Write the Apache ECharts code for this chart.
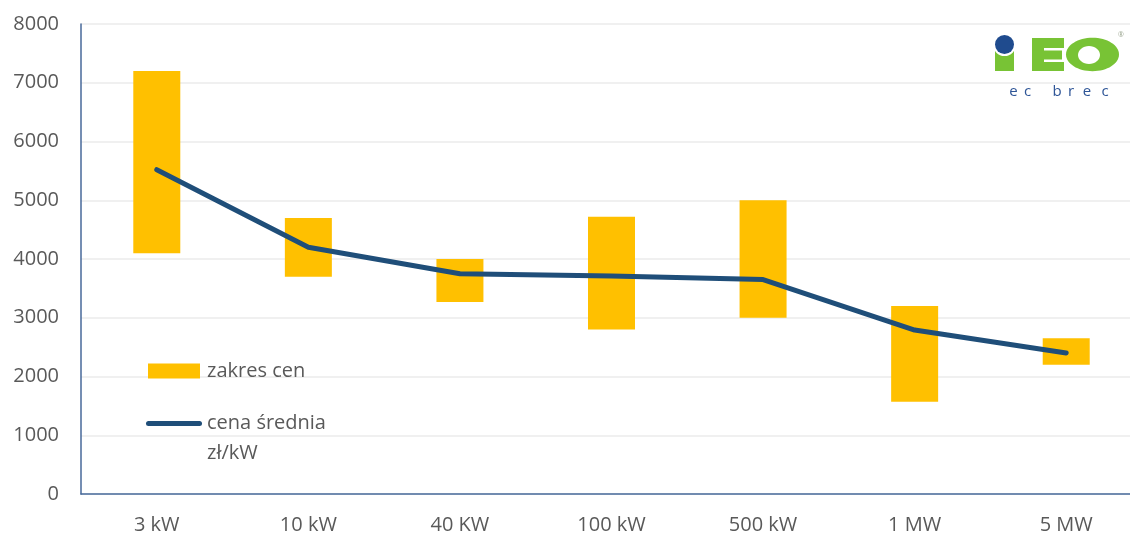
<!DOCTYPE html>
<html>
<head>
<meta charset="utf-8">
<script src="https://cdn.jsdelivr.net/npm/echarts@6/dist/echarts.min.js"></script>
<style>
  html, body { margin: 0; padding: 0; background: #ffffff; overflow: hidden; }
  /* the plot runs slightly past the right edge of the page */
  #chart { width: 1150px; height: 535px; }
</style>
</head>
<body>
<div id="chart"></div>
<script>
// Installation size classes
const categories = ['3 kW', '10 kW', '40 KW', '100 kW', '500 kW', '1 MW', '5 MW'];
// Price range per class (zł/kW): lowest and highest offer
const priceLow  = [4100, 3700, 3270, 2800, 3000, 1570, 2200];
const priceHigh = [7200, 4700, 4000, 4720, 5000, 3200, 2650];
// Average price (zł/kW)
const priceMean = [5520, 4200, 3750, 3710, 3650, 2790, 2400];
// Value axis ticks
const yTicks = [0, 1000, 2000, 3000, 4000, 5000, 6000, 7000, 8000];

const rangeName = 'zakres cen';
const meanName = 'cena średnia zł/kW';
const meanLines = ['cena średnia', 'zł/kW'];

const FONT = '"Open Sans", sans-serif';
const TEXT = '#595959';
const GREEN = '#78C335';
const BLUE = '#1F4B8E';
const LINE = '#1F4E79';

// Floating bars: an invisible base up to the low price, then the visible span
const rangeSpan = priceHigh.map((h, i) => h - priceLow[i]);

// Rounded thick stroke used as the legend key of the average line
const lineKey = 'path://M2.5,0 H53.5 A2.5,2.5 0 0 1 53.5,5 H2.5 A2.5,2.5 0 0 1 2.5,0 Z';

const chart = echarts.init(document.getElementById('chart'), null, { renderer: 'canvas' });

chart.setOption({
  animation: false,
  backgroundColor: '#ffffff',
  textStyle: { fontFamily: FONT },
  grid: { left: 81, top: 24, width: 1061, height: 471, containLabel: false },
  legend: [
    {
      data: [rangeName],
      left: 148, top: 361,
      orient: 'vertical',
      itemWidth: 52, itemHeight: 15, itemGap: 0,
      icon: 'rect',
      padding: 0,
      textStyle: { color: TEXT, fontSize: 20, fontFamily: FONT, padding: [0, 0, 0, 2] },
      selectedMode: false
    },
    {
      data: [{ name: meanName, icon: lineKey, itemStyle: { color: LINE } }],
      left: 146, top: 409,
      orient: 'vertical',
      itemWidth: 56, itemHeight: 5, itemGap: 0,
      padding: 0,
      formatter: () => meanLines[0],
      textStyle: { color: TEXT, fontSize: 20, lineHeight: 29, fontFamily: FONT },
      selectedMode: false
    }
  ],
  xAxis: {
    type: 'category',
    data: categories,
    axisLine: { show: true, lineStyle: { color: '#47699A', width: 1.5 } },
    axisTick: { show: false },
    axisLabel: { color: TEXT, fontSize: 20, fontFamily: FONT, margin: 21 },
    splitLine: { show: false }
  },
  yAxis: {
    type: 'value',
    min: yTicks[0],
    max: yTicks[yTicks.length - 1],
    interval: yTicks[1] - yTicks[0],
    axisLine: { show: true, lineStyle: { color: '#47699A', width: 1.5 } },
    axisTick: { show: false },
    axisLabel: { color: TEXT, fontSize: 20, fontFamily: FONT, margin: 22, formatter: v => String(v) },
    splitLine: { lineStyle: { color: '#EBEBEB', width: 1.5 } }
  },
  series: [
    {
      name: 'base',
      type: 'bar',
      stack: 'range',
      data: priceLow,
      barWidth: 47,
      itemStyle: { color: 'rgba(0,0,0,0)' },
      silent: true
    },
    {
      name: rangeName,
      type: 'bar',
      stack: 'range',
      data: rangeSpan,
      barWidth: 47,
      itemStyle: { color: '#FFC000' }
    },
    {
      name: meanName,
      type: 'line',
      data: priceMean,
      symbol: 'none',
      lineStyle: { color: LINE, width: 5, cap: 'round', join: 'round' },
      itemStyle: { color: LINE },
      z: 5
    }
  ],
  graphic: [
    // unit line of the average-price legend entry
    {
      type: 'text', left: 207, top: 439,
      style: { text: meanLines[1], fontSize: 20, lineHeight: 29, fill: TEXT, fontFamily: FONT }
    },
    // Company logo in the upper right corner
    {
      type: 'group',
      left: 993, top: 31,
      children: [
        // "i"
        { type: 'rect', shape: { x: 1, y: 17, width: 19, height: 20 }, style: { fill: GREEN } },
        { type: 'circle', shape: { cx: 10.5, cy: 10.5, r: 11.5 }, style: { fill: '#ffffff' } },
        { type: 'circle', shape: { cx: 10.5, cy: 10.5, r: 9.5 }, style: { fill: BLUE } },
        // "E"
        { type: 'rect', shape: { x: 38, y: 4, width: 12, height: 33 }, style: { fill: GREEN } },
        { type: 'rect', shape: { x: 38, y: 4, width: 32, height: 10 }, style: { fill: GREEN } },
        { type: 'rect', shape: { x: 38, y: 16.5, width: 30, height: 9 }, style: { fill: GREEN } },
        { type: 'rect', shape: { x: 38, y: 28, width: 32, height: 9 }, style: { fill: GREEN } },
        // "O"
        { type: 'ellipse', shape: { cx: 98.5, cy: 20.5, rx: 26.5, ry: 16.7 }, style: { fill: GREEN } },
        { type: 'ellipse', shape: { cx: 95, cy: 21, rx: 11, ry: 9 }, style: { fill: '#ffffff' } },
        // registered mark
        { type: 'text', style: { x: 124, y: -3, text: '®', fontSize: 7, fill: '#9AA58F', fontFamily: FONT } },
        // "ec brec"
        { type: 'text', style: { x: 19.5, y: 58, text: 'e', fontSize: 15, fill: '#2E5597', fontFamily: FONT, align: 'center', verticalAlign: 'middle' } },
        { type: 'text', style: { x: 33.5, y: 58, text: 'c', fontSize: 15, fill: '#2E5597', fontFamily: FONT, align: 'center', verticalAlign: 'middle' } },
        { type: 'text', style: { x: 63, y: 58, text: 'b', fontSize: 15, fill: '#2E5597', fontFamily: FONT, align: 'center', verticalAlign: 'middle' } },
        { type: 'text', style: { x: 77, y: 58, text: 'r', fontSize: 15, fill: '#2E5597', fontFamily: FONT, align: 'center', verticalAlign: 'middle' } },
        { type: 'text', style: { x: 93, y: 58, text: 'e', fontSize: 15, fill: '#2E5597', fontFamily: FONT, align: 'center', verticalAlign: 'middle' } },
        { type: 'text', style: { x: 111, y: 58, text: 'c', fontSize: 15, fill: '#2E5597', fontFamily: FONT, align: 'center', verticalAlign: 'middle' } }
      ]
    }
  ]
});
</script>
</body>
</html>
